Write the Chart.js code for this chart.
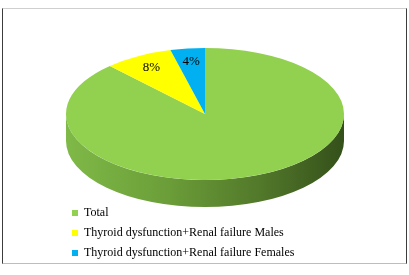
<!DOCTYPE html>
<html>
<head>
<meta charset="utf-8">
<title>Thyroid dysfunction + Renal failure</title>
<script src="https://cdn.jsdelivr.net/npm/chart.js@4.4.1/dist/chart.umd.min.js"></script>
<style>
  html, body { margin: 0; padding: 0; background: #fff; }
  #wrap { position: relative; width: 409px; height: 275px; }
  #frame {
    position: absolute; left: 2px; top: 8px; width: 403px; height: 254px;
    border-top: 1px solid #cfcfcf; border-bottom: 1px solid #bdbdbd;
    border-left: 1px solid #3c3c3c; border-right: 1px solid #3c3c3c;
  }
  #chart { position: absolute; left: 0; top: 0; }
</style>
</head>
<body>
<div id="wrap">
  <div id="frame"></div>
  <canvas id="chart" width="409" height="275"></canvas>
</div>
<script>
// ─── Data ────────────────────────────────────────────────────────
const categories = [
  "Total",
  "Thyroid dysfunction+Renal failure Males",
  "Thyroid dysfunction+Renal failure Females",
];
const values = [88, 8, 4];
const pctLabels = ["", "8%", "4%"];

// ─── Look ────────────────────────────────────────────────────────
const COLORS = ["#92D050", "#FFFF00", "#00B0F0"];
const SERIF = '"Liberation Serif", "Times New Roman", serif';
const TILT = 66 / 139;     // squash of the top face (ry / rx)
const DEPTH = 27;          // thickness of the side wall, px
const FACE_CY = 114;       // vertical centre of the top face, px
const LABEL_POS = 0.8;     // label distance from centre, fraction of radius

// 3D look: squash the pie into an ellipse and draw a shaded side wall
const pie3d = {
  id: "pie3d",
  beforeDatasetsDraw(chart) {
    const ctx = chart.ctx;
    const arcs = chart.getDatasetMeta(0).data;
    const { x, y, outerRadius: r } = arcs[0];
    ctx.save();
    ctx.translate(0, FACE_CY);
    ctx.scale(1, TILT);
    ctx.translate(0, -y);

    const d = DEPTH / TILT;
    const side = ctx.createLinearGradient(x - r, 0, x + r, 0);
    side.addColorStop(0, "#7fb947");
    side.addColorStop(0.35, "#6c9f39");
    side.addColorStop(0.7, "#52782a");
    side.addColorStop(1, "#34501a");

    // only the front half (0..PI in canvas angles) shows its wall
    arcs.forEach((arc) => {
      for (let k = -1; k <= 1; k++) {
        const a0 = Math.max(arc.startAngle, 2 * Math.PI * k);
        const a1 = Math.min(arc.endAngle, 2 * Math.PI * k + Math.PI);
        if (a1 <= a0) continue;
        ctx.beginPath();
        ctx.arc(x, y, r, a0, a1);
        ctx.arc(x, y + d, r, a1, a0, true);
        ctx.closePath();
        ctx.fillStyle = side;
        ctx.fill();
      }
    });
  },
  afterDatasetsDraw(chart) {
    const ctx = chart.ctx;
    ctx.restore();

    const arcs = chart.getDatasetMeta(0).data;
    ctx.save();
    ctx.font = "13px " + SERIF;
    ctx.fillStyle = "#000";
    ctx.textAlign = "center";
    ctx.textBaseline = "middle";
    arcs.forEach((arc, i) => {
      if (!pctLabels[i]) return;
      const mid = (arc.startAngle + arc.endAngle) / 2;
      const rr = arc.outerRadius * LABEL_POS;
      const lx = arc.x + Math.cos(mid) * rr;
      const ly = FACE_CY + Math.sin(mid) * rr * TILT;
      ctx.fillText(pctLabels[i], lx, ly);
    });
    ctx.restore();
  },
};

// ─── Chart ───────────────────────────────────────────────────────
new Chart(document.getElementById("chart"), {
  type: "pie",
  data: {
    labels: categories,
    datasets: [{
      data: values,
      backgroundColor: COLORS,
      borderWidth: 0,
      radius: 139,
      clip: false,
    }],
  },
  options: {
    responsive: false,
    animation: false,
    events: [],
    layout: { padding: { left: 64, right: 63, top: 4, bottom: 4 } },
    plugins: {
      tooltip: { enabled: false },
      legend: {
        position: "chartArea",
        align: "end",
        labels: {
          boxWidth: 6,
          boxHeight: 6,
          padding: 8,
          color: "#000",
          font: { family: SERIF, size: 12 },
        },
      },
    },
  },
  plugins: [pie3d],
});
</script>
</body>
</html>
